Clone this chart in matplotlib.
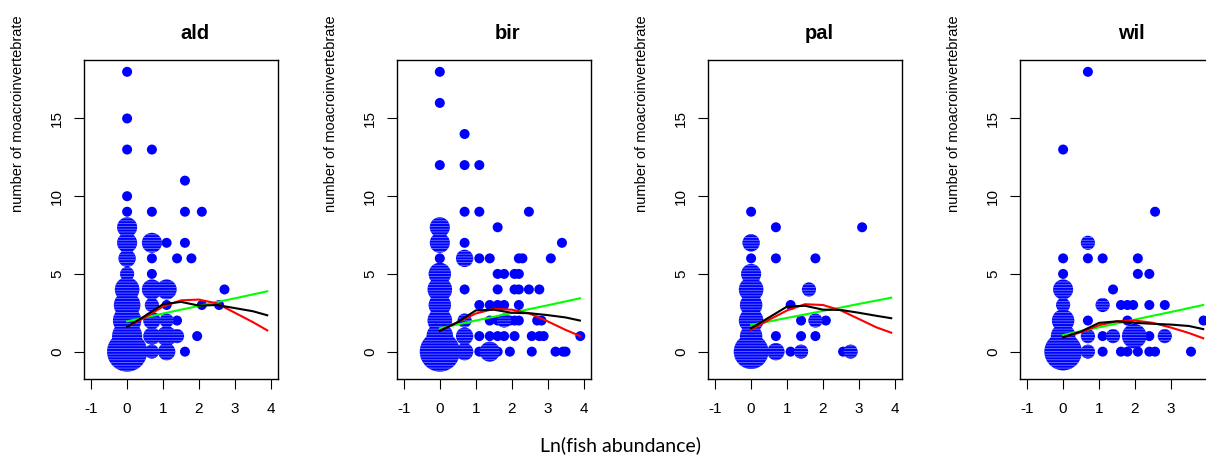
import numpy as np
import matplotlib.pyplot as plt

plt.rcParams['font.family'] = ['Liberation Sans', 'DejaVu Sans']
plt.rcParams['hatch.linewidth'] = 0.6
plt.rcParams['axes.unicode_minus'] = False

sites = ['ald', 'bir', 'pal', 'wil']

# points: ln(fish abundance), number of macroinvertebrates, overlap count (bubble size)
ald_x = [0, 0, 0, 0, 0, 0, 0, 0, 0, 0, 0, 0, 0, 0,
         0.69, 0.69, 0.69, 0.69, 0.69, 0.69, 0.69, 0.69, 0.69, 0.69,
         1.10, 1.10, 1.10, 1.10, 1.10, 1.10,
         1.39, 1.39, 1.39, 1.61, 1.61, 1.61, 1.61,
         1.79, 1.95, 2.08, 2.08, 2.56, 2.71]
ald_y = [18, 15, 13, 10, 9, 8, 7, 6, 5, 4, 3, 2, 1, 0,
         13, 9, 7, 6, 5, 4, 3, 2, 1, 0,
         7, 4, 3, 2, 1, 0,
         6, 2, 1, 11, 9, 7, 0,
         6, 1, 9, 3, 3, 4]
ald_n = [1, 1, 1, 1, 1, 4, 4, 3, 2, 6, 7, 8, 9, 16,
         1, 1, 4, 1, 1, 4, 2, 3, 3, 2,
         1, 4, 1, 2, 4, 3,
         1, 1, 2, 1, 1, 1, 1,
         1, 1, 1, 1, 1, 1]

bir_x = [0, 0, 0, 0, 0, 0, 0, 0, 0, 0, 0, 0,
         0.69, 0.69, 0.69, 0.69, 0.69, 0.69, 0.69, 0.69, 0.69,
         1.10, 1.10, 1.10, 1.10, 1.10, 1.10,
         1.39, 1.39, 1.39, 1.39, 1.39,
         1.61, 1.61, 1.61, 1.61, 1.61, 1.61, 1.61,
         1.79, 1.79, 1.79, 1.79, 1.95, 1.95,
         2.08, 2.08, 2.08, 2.08,
         2.20, 2.20, 2.20, 2.20, 2.20, 2.30,
         2.48, 2.48, 2.56, 2.56, 2.71, 2.77, 2.77, 2.83, 2.89,
         3.09, 3.22, 3.40, 3.43, 3.50, 3.91]
bir_y = [18, 16, 12, 8, 7, 6, 5, 4, 3, 2, 1, 0,
         14, 12, 9, 7, 6, 4, 2, 1, 0,
         12, 9, 6, 3, 1, 0,
         6, 3, 2, 1, 0,
         8, 5, 4, 3, 2, 1, 0,
         5, 3, 2, 1, 2, 0,
         5, 4, 2, 1,
         6, 5, 4, 3, 2, 6,
         9, 4, 1, 0, 2, 4, 1, 2, 1,
         6, 0, 7, 0, 0, 1]
bir_n = [1, 1, 1, 4, 4, 1, 5, 6, 5, 6, 7, 16,
         1, 1, 1, 1, 3, 1, 2, 3, 3,
         1, 1, 1, 1, 1, 1,
         1, 1, 1, 1, 4,
         1, 1, 1, 1, 1, 1, 1,
         1, 1, 2, 1, 1, 1,
         1, 1, 1, 1,
         1, 1, 1, 1, 1, 1,
         1, 1, 1, 1, 1, 1, 1, 1, 1,
         1, 1, 1, 1, 1, 1]

pal_x = [0, 0, 0, 0, 0, 0, 0, 0, 0,
         0.69, 0.69, 0.69, 0.69,
         1.10, 1.10, 1.39, 1.39, 1.39, 1.61,
         1.79, 1.79, 1.79, 2.08, 2.56, 2.77, 3.09]
pal_y = [9, 7, 6, 5, 4, 3, 2, 1, 0,
         8, 6, 1, 0,
         3, 0, 2, 1, 0, 4,
         6, 2, 1, 2, 0, 0, 8]
pal_n = [1, 3, 1, 4, 6, 5, 6, 5, 12,
         1, 1, 1, 3,
         1, 1, 1, 1, 2, 2,
         1, 2, 1, 1, 1, 2, 1]

wil_x = [0, 0, 0, 0, 0, 0, 0, 0,
         0.69, 0.69, 0.69, 0.69, 0.69, 0.69,
         1.10, 1.10, 1.10, 1.10, 1.39, 1.39,
         1.61, 1.61, 1.79, 1.79, 1.79, 1.95,
         2.08, 2.08, 1.98, 2.08, 2.20,
         2.40, 2.40, 2.40, 2.40, 2.56, 2.56,
         2.83, 2.83, 3.56, 3.91]
wil_y = [13, 6, 5, 4, 3, 2, 1, 0,
         18, 7, 6, 2, 1, 0,
         6, 3, 1, 0, 4, 1,
         3, 0, 3, 2, 0, 3,
         6, 5, 1, 0, 1,
         5, 3, 1, 0, 9, 0,
         3, 1, 0, 2]
wil_n = [1, 1, 1, 4, 2, 5, 6, 14,
         1, 2, 1, 1, 2, 2,
         1, 2, 1, 1, 1, 2,
         1, 1, 1, 1, 1, 1,
         1, 1, 6, 1, 1,
         1, 1, 1, 1, 1, 1,
         1, 2, 1, 1]

# smoothers
smooth_x = [0, 0.5, 1, 1.5, 2, 2.5, 3, 3.5, 3.9]
ald_black = [1.59, 2.3, 3.05, 3.2, 2.96, 3.0, 2.8, 2.6, 2.34]
ald_red = [1.6, 2.2, 2.9, 3.3, 3.35, 3.1, 2.5, 1.9, 1.37]
ald_green = [1.95, 2.2, 2.45, 2.7, 2.94, 3.19, 3.43, 3.68, 3.88]
bir_black = [1.33, 1.9, 2.65, 2.7, 2.5, 2.47, 2.35, 2.2, 2.0]
bir_red = [1.33, 1.9, 2.45, 2.75, 2.7, 2.45, 1.95, 1.4, 1.01]
bir_green = [1.5, 1.75, 2.0, 2.24, 2.49, 2.74, 2.98, 3.23, 3.43]
pal_black = [1.5, 2.2, 2.9, 2.95, 2.7, 2.68, 2.5, 2.3, 2.15]
pal_red = [1.4, 2.05, 2.65, 3.05, 3.0, 2.65, 2.1, 1.55, 1.22]
pal_green = [1.72, 1.94, 2.17, 2.39, 2.62, 2.84, 3.07, 3.29, 3.47]
wil_black = [0.92, 1.3, 1.85, 1.95, 1.85, 1.79, 1.74, 1.65, 1.45]
wil_red = [0.92, 1.25, 1.7, 1.95, 2.0, 1.85, 1.55, 1.2, 0.86]
wil_green = [1.07, 1.32, 1.56, 1.81, 2.06, 2.31, 2.55, 2.8, 3.0]

x_ticks = [-1, 0, 1, 2, 3, 4]
y_ticks = [0, 5, 10, 15]

points = {'ald': (ald_x, ald_y, ald_n), 'bir': (bir_x, bir_y, bir_n),
          'pal': (pal_x, pal_y, pal_n), 'wil': (wil_x, wil_y, wil_n)}
curves = {'ald': (ald_black, ald_red, ald_green), 'bir': (bir_black, bir_red, bir_green),
          'pal': (pal_black, pal_red, pal_green), 'wil': (wil_black, wil_red, wil_green)}

W, H = 1206, 461
fig = plt.figure(figsize=(W / 100, H / 100), dpi=100)
lefts = [84, 396.7, 708, 1020]
top, bottom, width = 60, 379, 194

for site, left in zip(sites, lefts):
    ax = fig.add_axes([left / W, 1 - bottom / H, width / W, (bottom - top) / H])
    x, y, n = (np.array(a, dtype=float) for a in points[site])
    small = n < 2
    ax.scatter(x[small], y[small], s=52 * n[small], c='#0000ff', linewidths=0, zorder=2)
    ax.scatter(x[~small], y[~small], s=52 * n[~small], facecolor='#0000ff',
               edgecolor='#6a78ff', hatch='------', linewidths=0, zorder=2)
    black, red, green = curves[site]
    ax.plot(smooth_x, green, color='#00ff00', lw=1.5, zorder=3)
    ax.plot(smooth_x, red, color='#ff0000', lw=1.5, zorder=3)
    ax.plot(smooth_x, black, color='black', lw=1.5, zorder=4)

    ax.set_xlim(-1.2, 4.2)
    ax.set_ylim(-1.76, 18.76)
    ax.set_xticks(x_ticks)
    if site == 'wil':
        # the right edge of the last panel is cut off by the figure border
        ax.set_xticklabels([str(t) if t < 4 else '' for t in x_ticks])
    ax.set_yticks(y_ticks)
    ax.tick_params(direction='out', length=7.2, width=0.8, labelsize=11)
    ax.tick_params(axis='x', pad=9)
    ax.tick_params(axis='y', pad=7, labelrotation=90)
    for lbl in ax.get_yticklabels():
        lbl.set_va('center')
    for sp in ax.spines.values():
        sp.set_linewidth(1.0)

    fig.text((left - 66) / W, 1 - 114 / H, 'number of moacroinvertebrate',
             rotation=90, ha='center', va='center', fontsize=10.5)
    fig.text((left + 111) / W, 1 - 33 / H, site, ha='center', va='center',
             fontsize=14.5, fontweight='bold')

fig.text(620 / W, 1 - 445 / H, 'Ln(fish abundance)', ha='center', va='center',
         fontsize=14, family=['Lato', 'DejaVu Sans'])

fig.savefig('out.png', dpi=100)
